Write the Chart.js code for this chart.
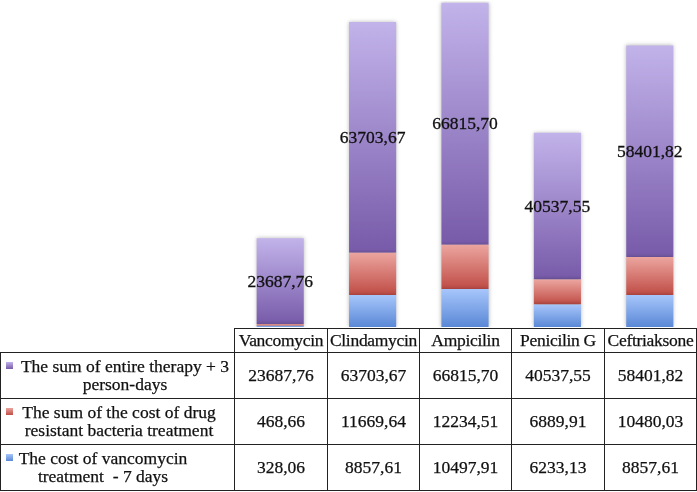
<!DOCTYPE html>
<html>
<head>
<meta charset="utf-8">
<script src="https://cdn.jsdelivr.net/npm/chart.js@4.4.0/dist/chart.umd.min.js"></script>
<style>
  html, body { margin: 0; padding: 0; background: #fff; }
  #wrap { position: relative; width: 697px; height: 492px; overflow: hidden; }
  #chart { position: absolute; left: 0; top: 0; }
  table {
    position: absolute; left: 0; top: 328px;
    border-collapse: collapse; table-layout: fixed;
    font-family: "Liberation Serif", "DejaVu Serif", serif;
    font-size: 17.5px; color: #111;
    -webkit-text-stroke: 0.25px #111;
  }
  td { border: 1.5px solid #222; text-align: center; padding: 0; overflow: hidden; white-space: nowrap; }
  td.blank { border: none; border-bottom: 1.5px solid #222; }
  tr.head td { height: 23px; letter-spacing: -0.3px; }
  tr.row td { height: 45px; }
  td.lab { position: relative; text-align: left; line-height: 18px; }
  td.lab .key { position: absolute; left: 5px; top: 9px; width: 7px; height: 7px; }
  td.lab .txt { position: absolute; left: 14px; top: 4px; text-align: center; }
</style>
</head>
<body>
<div id="wrap">
  <canvas id="chart" width="697" height="492"></canvas>
  <table id="tbl"></table>
</div>
<script>
var drugs = ['Vancomycin', 'Clindamycin', 'Ampicilin', 'Penicilin G', 'Ceftriaksone'];
var costVanco = [328.06, 8857.61, 10497.91, 6233.13, 8857.61];
var costResistant = [468.66, 11669.64, 12234.51, 6889.91, 10480.03];
var sumTherapy = [23687.76, 63703.67, 66815.70, 40537.55, 58401.82];
var seriesNames = [
  'The sum of entire therapy + 3 person-days',
  'The sum of the cost of drug resistant bacteria treatment',
  'The cost of vancomycin treatment  - 7 days'
];

// gradients: [top colour, bottom colour]
var grads = [
  ['#a7c6fb', '#5a88d6'],
  ['#eca59f', '#bf4c45'],
  ['#c2b3ea', '#775aa9']
];
var stackData = [costVanco, costResistant, sumTherapy];

function fmt(v) {
  return v.toFixed(2).replace('.', ',');
}

function segFill(ctx) {
  var chart = ctx.chart;
  var ds = ctx.datasetIndex, i = ctx.dataIndex;
  if (!chart.chartArea || i === undefined) return grads[ds][0];
  var y = chart.scales.y;
  var base = 0;
  for (var k = 0; k < ds; k++) base += stackData[k][i];
  var top = base + stackData[ds][i];
  var y0 = y.getPixelForValue(top), y1 = y.getPixelForValue(base);
  if (!isFinite(y0) || !isFinite(y1) || y0 === y1) return grads[ds][0];
  var g = chart.ctx.createLinearGradient(0, y0, 0, y1);
  g.addColorStop(0, grads[ds][0]);
  g.addColorStop(1, grads[ds][1]);
  return g;
}

var labelPlugin = {
  id: 'purpleLabels',
  beforeDatasetsDraw: function(chart) {
    var c = chart.ctx;
    c.save();
    c.shadowColor = 'rgba(0,0,0,0.28)';
    c.shadowBlur = 4;
    c.shadowOffsetX = 0;
    c.shadowOffsetY = 0;
  },
  afterDatasetsDraw: function(chart) {
    var c = chart.ctx;
    c.restore();
    var meta = chart.getDatasetMeta(2);
    c.save();
    c.font = '17.5px "Liberation Serif", "DejaVu Serif", serif';
    c.fillStyle = '#111';
    c.strokeStyle = '#111';
    c.lineWidth = 0.3;
    c.textAlign = 'center';
    c.textBaseline = 'middle';
    meta.data.forEach(function(bar, i) {
      var ty = (bar.y + bar.base) / 2 + 1;
      c.fillText(fmt(sumTherapy[i]), bar.x, ty);
      c.strokeText(fmt(sumTherapy[i]), bar.x, ty);
    });
    c.restore();
  }
};

new Chart(document.getElementById('chart'), {
  type: 'bar',
  data: {
    labels: drugs,
    datasets: [
      { label: seriesNames[2], data: costVanco, backgroundColor: segFill },
      { label: seriesNames[1], data: costResistant, backgroundColor: segFill },
      { label: seriesNames[0], data: sumTherapy, backgroundColor: segFill }
    ]
  },
  options: {
    responsive: false,
    animation: false,
    layout: { padding: { left: 234, right: 1, top: 1, bottom: 165 } },
    datasets: { bar: { categoryPercentage: 1, barPercentage: 0.51, borderWidth: 0 } },
    scales: {
      x: { stacked: true, display: false },
      y: { stacked: true, display: false, min: 0, max: 90000 }
    },
    plugins: { legend: { display: false }, tooltip: { enabled: false } }
  },
  plugins: [labelPlugin]
});

// data table under the bars
var rows = [
  { name: 'The sum of entire therapy + 3<br>person-days', vals: sumTherapy, key: grads[2], w: 220 },
  { name: 'The sum of the cost of drug<br>resistant bacteria treatment', vals: costResistant, key: grads[1], w: 208 },
  { name: 'The cost of vancomycin<br>treatment &nbsp;- 7 days', vals: costVanco, key: grads[0], w: 176 }
];
var widths = [234, 93, 92, 92, 93, 92];
var html = '<colgroup>' + widths.map(function(w) { return '<col style="width:' + w + 'px">'; }).join('') + '</colgroup>';
html += '<tr class="head"><td class="blank"></td>' + drugs.map(function(d) { return '<td>' + d + '</td>'; }).join('') + '</tr>';
rows.forEach(function(r) {
  html += '<tr class="row"><td class="lab"><span class="key" style="background:linear-gradient(' + r.key[0] + ',' + r.key[1] + ')"></span>' +
    '<div class="txt" style="width:' + r.w + 'px">' + r.name + '</div></td>' +
    r.vals.map(function(v) { return '<td>' + fmt(v) + '</td>'; }).join('') + '</tr>';
});
document.getElementById('tbl').innerHTML = html;
</script>
</body>
</html>
